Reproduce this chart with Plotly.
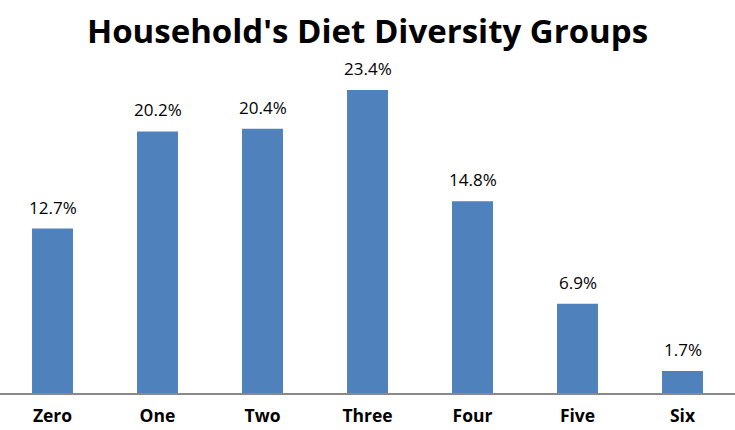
import plotly.graph_objects as go

categories = ["Zero", "One", "Two", "Three", "Four", "Five", "Six"]
values = [12.7, 20.2, 20.4, 23.4, 14.8, 6.9, 1.7]
labels = [f"{v:.1f}%" for v in values]

fig = go.Figure(go.Bar(x=categories, y=values, marker=dict(color="#4F81BD", line=dict(width=0)),
                       hoverinfo="skip"))

for c, v, t in zip(categories, values, labels):
    fig.add_annotation(x=c, y=v, text=t, showarrow=False, yanchor="bottom", yshift=8,
                       font=dict(family="Open Sans, sans-serif", size=17, color="#000"))

fig.update_layout(
    width=735, height=430,
    margin=dict(l=0, r=0, t=60, b=37),
    paper_bgcolor="white", plot_bgcolor="white",
    bargap=0.61,
    title=dict(text="<b>Household's Diet Diversity Groups</b>", x=0.5, xanchor="center",
               y=0.927, yanchor="middle",
               font=dict(family="Open Sans, sans-serif", size=33, color="#000")),
    xaxis=dict(showline=True, linecolor="#898989", linewidth=1.5,
               ticks="outside", ticklen=6, tickcolor="rgba(0,0,0,0)",
               tickfont=dict(family="Open Sans, sans-serif", size=17.5, color="#000", weight="bold"),
               showgrid=False),
    yaxis=dict(visible=False, range=[0, 333/12.95], showgrid=False),
    showlegend=False,
)
fig.write_html("out.html", config={"displayModeBar": False},
               post_script="document.body.style.margin='0';")
